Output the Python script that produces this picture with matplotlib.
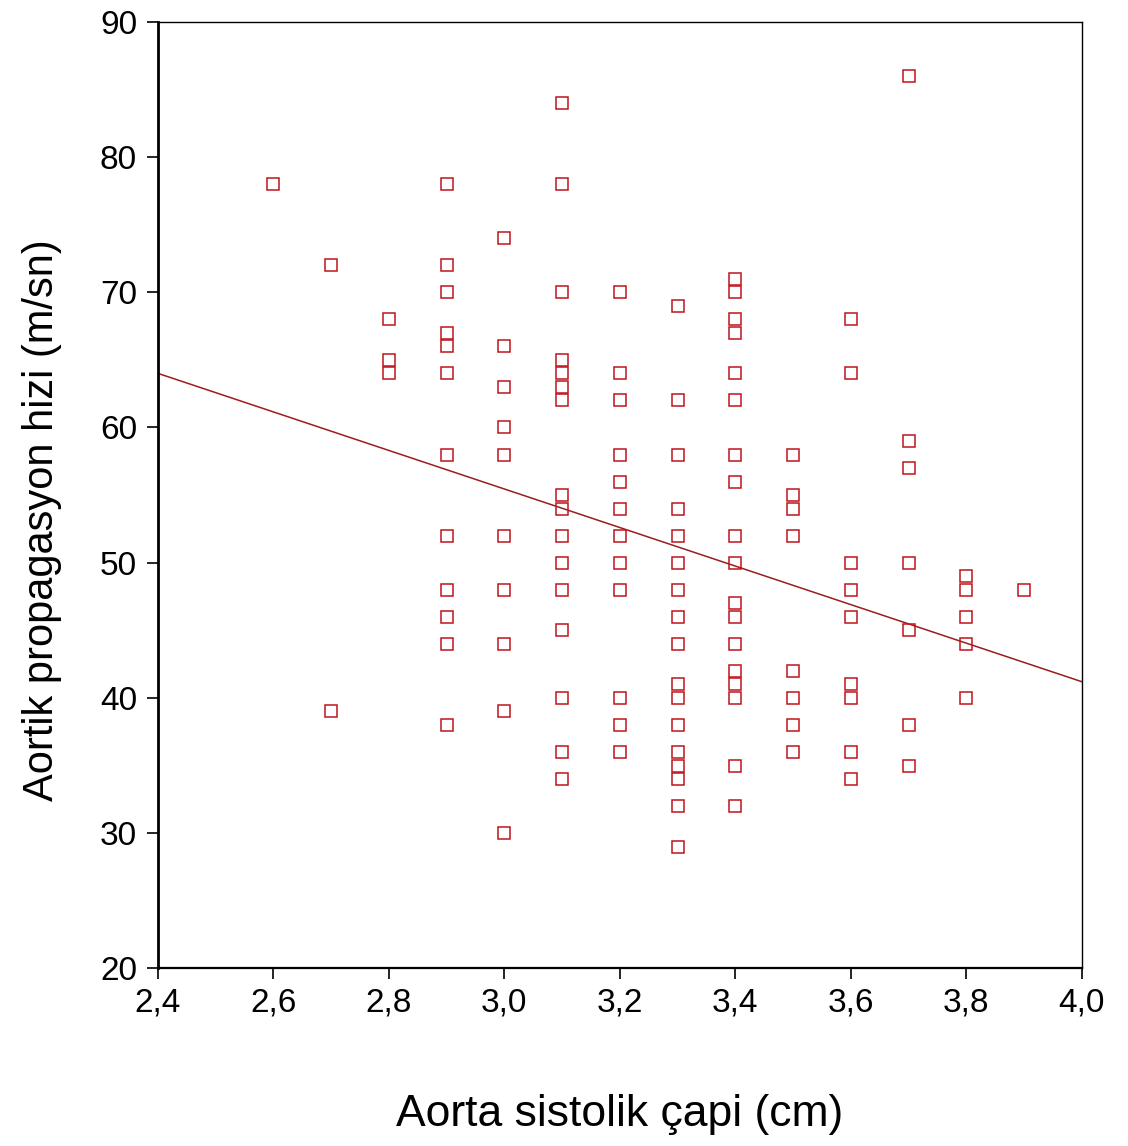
import matplotlib.pyplot as plt
from matplotlib.ticker import FuncFormatter

# Aorta sistolik çapi (cm) -> Aortik propagasyon hizi (m/sn), her çap değeri için ayrı liste
y_26 = [78]
y_27 = [72, 39]
y_28 = [68, 65, 64]
y_29 = [78, 72, 70, 67, 66, 64, 58, 52, 48, 46, 44, 38]
y_30 = [74, 66, 63, 60, 58, 52, 48, 44, 39, 30]
y_31 = [84, 78, 70, 65, 64, 63, 62, 55, 54, 52, 50, 48, 45, 40, 36, 34]
y_32 = [70, 64, 62, 58, 56, 54, 52, 50, 48, 40, 38, 36]
y_33 = [69, 62, 58, 54, 52, 50, 48, 46, 44, 41, 40, 38, 36, 35, 34, 32, 29]
y_34 = [71, 70, 68, 67, 64, 62, 58, 56, 52, 50, 47, 46, 44, 42, 41, 40, 35, 32]
y_35 = [58, 55, 54, 52, 42, 40, 38, 36]
y_36 = [68, 64, 50, 48, 46, 41, 40, 36, 34]
y_37 = [86, 59, 57, 50, 45, 38, 35]
y_38 = [49, 48, 46, 44, 40]
y_39 = [48]

diameters = [2.6, 2.7, 2.8, 2.9, 3.0, 3.1, 3.2, 3.3, 3.4, 3.5, 3.6, 3.7, 3.8, 3.9]
groups = [y_26, y_27, y_28, y_29, y_30, y_31, y_32, y_33, y_34, y_35, y_36, y_37, y_38, y_39]

# regresyon çizgisi (resimden okunan uç noktalar)
fit_x = [2.4, 4.0]
fit_y = [64.0, 41.2]

xs = []
ys = []
for d, g in zip(diameters, groups):
    xs += [d] * len(g)
    ys += g

plt.rcParams['font.family'] = ['Liberation Sans', 'DejaVu Sans']

fig = plt.figure(figsize=(11.28, 11.46), dpi=100)
ax = fig.add_axes([0.140, 0.155, 0.819, 0.826])

ax.plot(fit_x, fit_y, color='#9b1c1c', linewidth=1.1, zorder=2)
ax.plot(xs, ys, linestyle='none', marker='s', markersize=8,
        markerfacecolor='none', markeredgecolor='#c0141c', markeredgewidth=1.1, zorder=3)

ax.set_xlim(2.4, 4.0)
ax.set_ylim(20, 90)
ax.set_xticks([2.4, 2.6, 2.8, 3.0, 3.2, 3.4, 3.6, 3.8, 4.0])
ax.set_yticks([20, 30, 40, 50, 60, 70, 80, 90])
ax.xaxis.set_major_formatter(FuncFormatter(lambda v, p: f"{v:.1f}".replace('.', ',')))

ax.tick_params(axis='both', direction='out', length=8, width=1.2, labelsize=24, colors='black')
ax.tick_params(axis='x', pad=6)
ax.tick_params(axis='y', pad=7)

ax.spines['left'].set_linewidth(2)
ax.spines['bottom'].set_linewidth(1.6)
ax.spines['top'].set_linewidth(1)
ax.spines['right'].set_linewidth(1)

ax.set_xlabel("Aorta sistolik çapi (cm)", fontsize=32, labelpad=54)
ax.set_ylabel("Aortik propagasyon hizi (m/sn)", fontsize=30)
ax.yaxis.set_label_coords(-0.104, 0.4736)

fig.savefig("out.png", dpi=100)
